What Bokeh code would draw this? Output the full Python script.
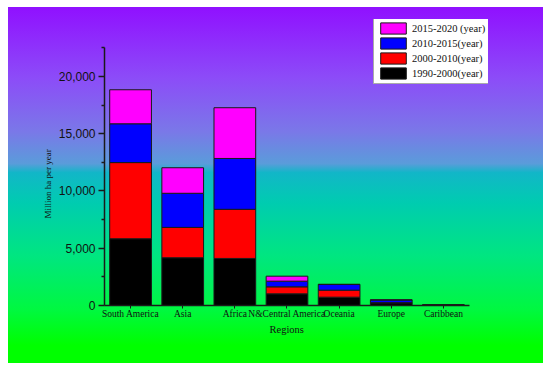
from bokeh.plotting import figure
from bokeh.models import (Range1d, FixedTicker, NumeralTickFormatter,
                          Legend, LegendItem, ColumnDataSource, Title)
from bokeh.embed import file_html
from bokeh.resources import INLINE

regions = ["South America", "Asia", "Africa", "N&Central America", "Oceania", "Europe", "Caribbean"]
periods = ["1990-2000(year)", "2000-2010(year)", "2010-2015(year)", "2015-2020 (year)"]
keys = ["p1990_2000", "p2000_2010", "p2010_2015", "p2015_2020"]
p1990_2000 = [5830, 4170, 4110, 1020, 727, 230, 20]
p2000_2010 = [6650, 2650, 4290, 610, 613, 20, 10]
p2010_2015 = [3390, 2980, 4440, 495, 494, 230, 10]
p2015_2020 = [2970, 2230, 4430, 435, 20, 20, 10]
colors = ["#000000", "#FF0000", "#0000FF", "#FF00FF"]
y_major = [0, 5000, 10000, 15000, 20000]
y_minor = [2500, 7500, 12500, 17500, 22500]
y_axis_top = 22530
y_title = "Million ha per year"
x_title = "Regions"

idx = list(range(len(regions)))
source = ColumnDataSource(dict(x=idx, p1990_2000=p1990_2000, p2000_2010=p2000_2010,
                               p2010_2015=p2010_2015, p2015_2020=p2015_2020))

# frame extends a bit past the axes so the legend (which sits partly outside the axes) is not clipped
p = figure(x_range=Range1d(-0.5, len(regions) - 0.5 + 0.365),
           y_range=Range1d(0, y_axis_top * 286 / 258),
           width=535, height=356, output_backend="svg", toolbar_location=None,
           min_border_left=96, min_border_right=55, min_border_top=12, min_border_bottom=58)
p.margin = (7, 0, 0, 8)

p.styles = {"background": "linear-gradient(to bottom, #9010FF 0%, #8C4CF8 20%, #7A78E8 35%, "
                          "#5A9CDA 44%, #12B6C8 46.5%, #00CCB0 55%, #00E680 70%, "
                          "#00F840 85%, #00FF00 95%, #00FF00 100%)"}
p.border_fill_color = None
p.background_fill_color = None
p.outline_line_color = None
p.xgrid.grid_line_color = None
p.ygrid.grid_line_color = None

renderers = p.vbar_stack(keys, x="x", width=0.8, source=source, color=colors,
                         line_color="#1a1a1a", line_width=1)

items = [LegendItem(label=periods[i], renderers=[renderers[i]]) for i in range(3, -1, -1)]
legend = Legend(items=items, location=(269, 221))
legend.glyph_width = 32
legend.glyph_height = 14
legend.label_height = 14
legend.label_standoff = 3
legend.spacing = 1
legend.padding = 3
legend.margin = 0
legend.label_text_font = "Liberation Serif"
legend.label_text_font_size = "10.5px"
legend.label_text_color = "#111111"
legend.border_line_color = "#555555"
legend.border_line_width = 1
legend.background_fill_color = "white"
legend.background_fill_alpha = 1
p.add_layout(legend, "center")

# y axis
ya = p.yaxis[0]
ya.bounds = (0, y_axis_top)
ya.ticker = FixedTicker(ticks=y_major, minor_ticks=y_minor)
ya.formatter = NumeralTickFormatter(format="0,0")
ya.major_label_text_font = "Liberation Sans"
ya.major_label_text_font_size = "12px"
ya.major_label_text_color = "#111111"
ya.major_label_standoff = 3
ya.major_tick_in = 0
ya.major_tick_out = 6
ya.minor_tick_in = 0
ya.minor_tick_out = 3
ya.axis_line_width = 1.5
ya.axis_line_color = "#1a1a1a"
ya.major_tick_line_width = 1.5
ya.major_tick_line_color = "#1a1a1a"
ya.minor_tick_line_width = 1.5
ya.minor_tick_line_color = "#1a1a1a"

# x axis
xa = p.xaxis[0]
xa.bounds = (-0.5, len(regions) - 0.5)
xa.ticker = FixedTicker(ticks=idx, minor_ticks=[])
xa.major_label_overrides = {i: name for i, name in enumerate(regions)}
xa.major_label_text_font = "Liberation Serif"
xa.major_label_text_font_size = "9.5px"
xa.major_label_text_color = "#111111"
xa.major_label_standoff = 0
xa.major_tick_in = 0
xa.major_tick_out = 3
xa.minor_tick_in = 0
xa.minor_tick_out = 0
xa.axis_line_width = 1.5
xa.axis_line_color = "#1a1a1a"
xa.major_tick_line_color = "#1a1a1a"

# axis titles (positioned along the axes, not along the wider frame)
yt = Title(text=y_title, align="left", offset=87, standoff=6,
           text_font="Liberation Serif", text_font_size="9px", text_font_style="normal",
           text_color="#111111")
p.add_layout(yt, "left")
xt = Title(text=x_title, align="left", offset=165, standoff=0,
           text_font="Liberation Serif", text_font_size="10.5px", text_font_style="normal",
           text_color="#111111")
p.add_layout(xt, "below")

open("out.html", "w").write(file_html(p, INLINE))
